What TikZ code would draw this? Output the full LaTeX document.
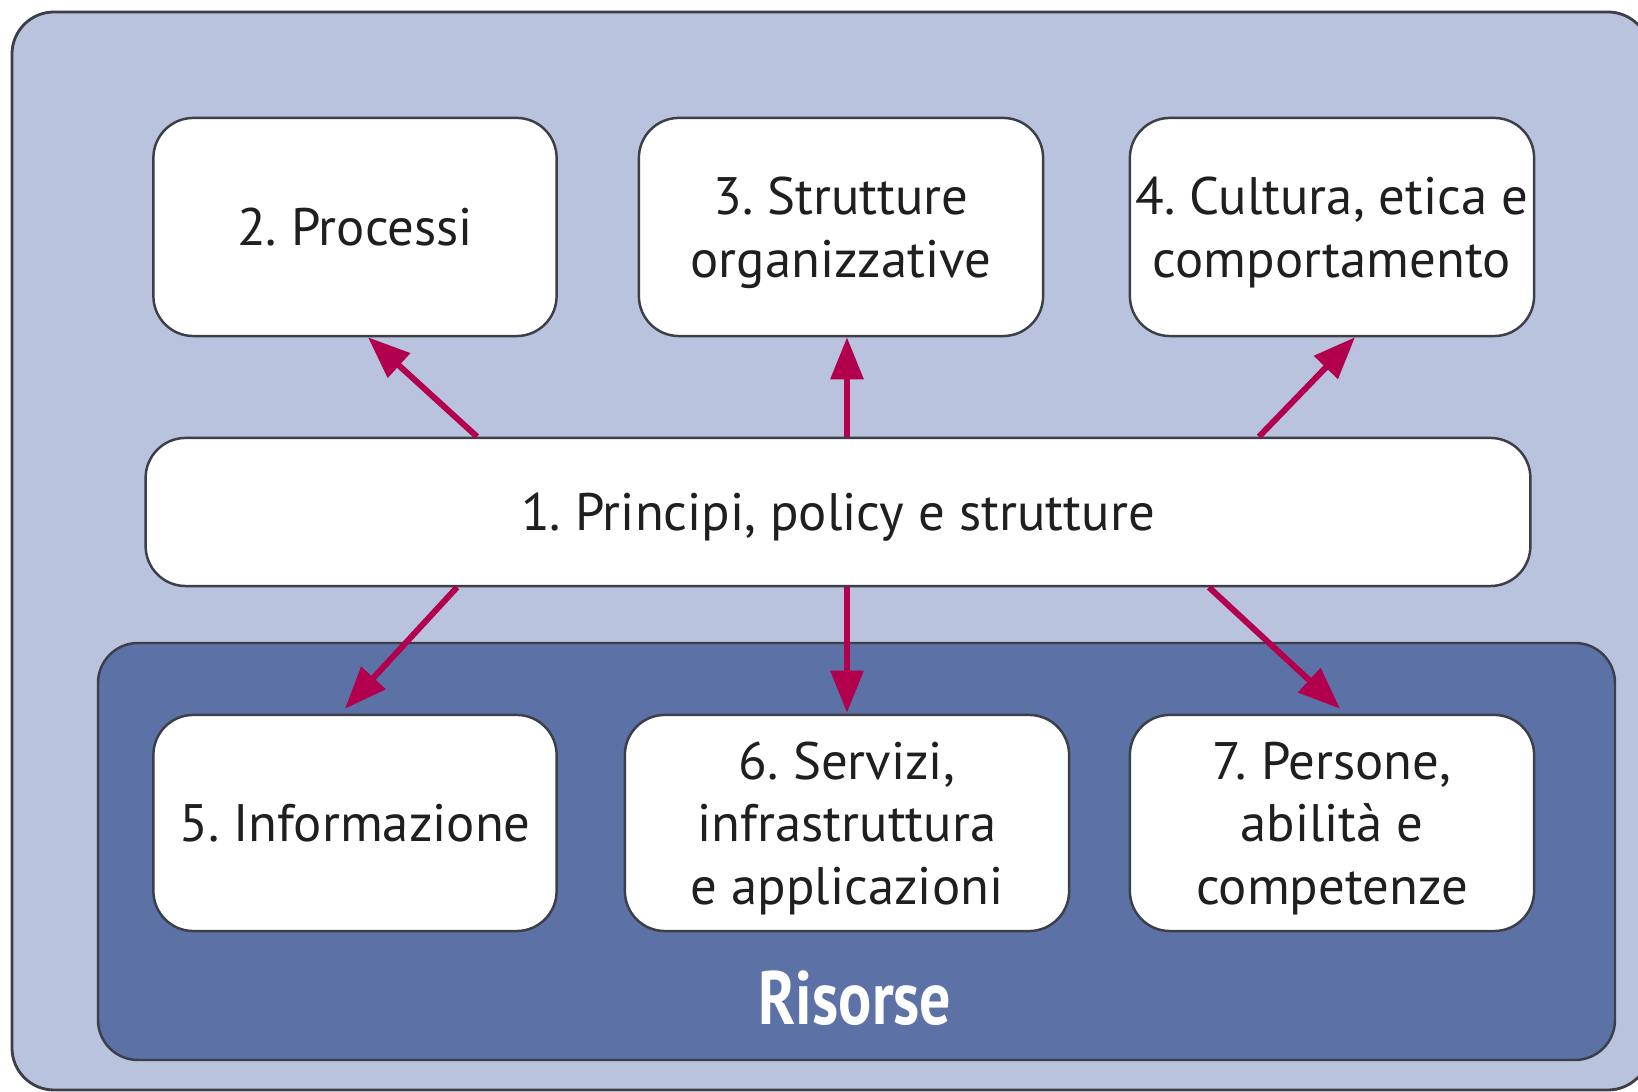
\documentclass[tikz,border=0pt]{standalone}
\usepackage{fontspec}
\setmainfont{PT Sans}
\usepackage{graphicx}
\usetikzlibrary{arrows.meta}
\definecolor{framecol}{RGB}{60,62,72}
\definecolor{lightblue}{RGB}{186,195,221}
\definecolor{darkblue}{RGB}{92,113,166}
\definecolor{arrowred}{RGB}{178,0,78}
\tikzset{box/.style={draw=framecol,line width=0.7pt,fill=white,rounded corners=0.4cm,
		align=center,text depth=0pt,inner xsep=0pt,font=\fontsize{15}{17.8}\selectfont,text=black!88},
	link/.style={draw=arrowred,line width=1.7pt,-{Triangle[length=0.42cm,width=0.32cm]}}}

\begin{document}
\frenchspacing
\begin{tikzpicture}[x=0.01cm,y=-0.01cm]
		\useasboundingbox (0,0) rectangle (1638,1092);
		\draw[framecol,line width=0.8pt,fill=lightblue,rounded corners=0.42cm] (12,12) rectangle (1650,1090);
		\draw[framecol,line width=0.7pt,fill=darkblue,rounded corners=0.4cm] (98,643) rectangle (1615,1060);
		\begin{scope}[every node/.style={box,minimum height=2.18cm}]
			\node[minimum width=4.03cm] (P2) at (355,227) {2. Processi};
			\node[minimum width=4.04cm] (P3) at (841,227) {3. Strutture\\organizzative};
			\node[minimum width=4.04cm] (P4) at (1332,227) {4. Cultura, etica e\\comportamento};
			\node[minimum width=13.84cm,minimum height=1.48cm] (P1) at (838,512) {1. Principi, policy e strutture};
			\node[minimum width=4.03cm,minimum height=2.16cm] (P5) at (355,823) {5. Informazione};
			\node[minimum width=4.44cm,minimum height=2.16cm] (P6) at (847,823) {6. Servizi,\\infrastruttura\\e applicazioni};
			\node[minimum width=4.04cm,minimum height=2.16cm] (P7) at (1332,823) {7. Persone,\\abilità e\\competenze};
		\end{scope}
		\node[text=white,font=\fontsize{21.5}{24}\selectfont\bfseries] (R) at (855,998) {\scalebox{0.82}[1]{Risorse}};
		\begin{scope}[every edge/.style={link}]
			\path ([xshift=1.22cm]P1.north -| P2.south) edge ([xshift=0.13cm]P2.south);
			\path ([xshift=0.06cm]P1.north -| P3.south) edge ([xshift=0.06cm]P3.south);
			\path ([xshift=-0.73cm]P1.north -| P4.south) edge ([xshift=0.23cm]P4.south);
			\path ([xshift=1.02cm]P1.south -| P5.north) edge ([xshift=-0.1cm,yshift=0.05cm]P5.north);
			\path (P1.south -| P6.north) edge ([yshift=0.01cm]P6.north);
			\path ([xshift=-1.23cm]P1.south -| P7.north) edge ([xshift=0.08cm,yshift=0.05cm]P7.north);
		\end{scope}
	\end{tikzpicture}
\end{document}
